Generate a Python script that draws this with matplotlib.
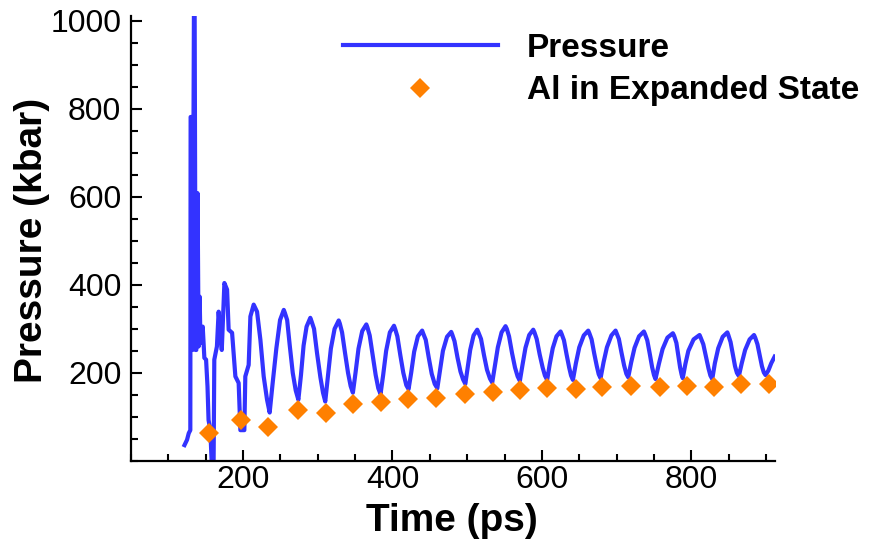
import numpy as np
import matplotlib
matplotlib.use("Agg")
import matplotlib.pyplot as plt
from matplotlib.ticker import MultipleLocator

plt.rcParams['font.family'] = ['Liberation Sans', 'DejaVu Sans']

# --- Data ---
# Pressure trace (time in ps, pressure in kbar)
time_ps = [
    121.6, 125, 127.3, 129.4, 129.8, 131.7, 132.5, 134.2, 135.2, 136.5,
    137.4, 139.1, 140.5, 141.9, 143, 146, 148.2, 150.5, 152.4, 153.8,
    156.2, 158.4, 160.5, 161.5, 165, 167.3, 169.5, 171.5, 175, 178.6,
    180.7, 185.3, 189.7, 194.1, 196.4, 201.7, 203, 207.5, 209.8, 214.2,
    218.7, 223.2, 227.6, 232.1, 235.6,
    239.5, 244.5, 249.5, 254.5, 256, 259, 262.5, 266.5, 270.5, 274,
    277.5, 281, 285, 290, 291.5, 295, 299, 303.5, 307, 310,
    313.5, 317.5, 322.5, 328, 329.5, 332.5, 336.5, 340.5, 344, 347,
    350.5, 354.5, 359.5, 365, 366.5, 369.5, 373.5, 377.5, 381, 384,
    387.5, 391.5, 396.5, 402, 403.5, 406.5, 410.5, 414.5, 418.5, 421.5,
    425, 429, 434, 439.7, 441, 444.5, 448.5, 452.5, 456.5, 460,
    463.5, 467.5, 473, 478.6, 480, 483, 487, 491, 494.5, 497.5,
    500.5, 504, 508.5, 513.4, 515, 518.5, 522.5, 526.5, 530.5, 533.5,
    537, 541, 546, 551.3, 553, 556, 560, 564, 567.5, 570.5,
    574, 578, 583, 588.4, 590, 593, 597, 601, 604, 607,
    610.5, 614.5, 619.5, 625, 626.5, 629.5, 633, 636.5, 639, 641.5,
    645.5, 650, 656, 662, 663.5, 666.5, 670, 673.5, 676, 678.5,
    682.5, 687, 693, 698.6, 700, 703, 706.5, 710, 713, 715.5,
    719.5, 724, 730, 736.5, 738, 741, 744.5, 747.5, 750, 752,
    756.5, 761.5, 768, 775.3, 777, 780, 782.5, 785, 787, 788.5,
    792, 796, 803, 811, 812.5, 816, 819.5, 823, 825.5, 828,
    831.5, 836, 842, 848.2, 849.5, 852.5, 855.5, 858.5, 861, 863.6,
    867.5, 872, 878, 883.9, 885.5, 888.5, 891.5, 894.5, 897, 899.3,
    903, 907, 911.5,
]
pressure_kbar = [
    36, 48, 63, 70, 781, 781, 252, 1010, 1010, 252,
    252, 608, 260, 373, 268, 305, 234, 230, 169, 93,
    70, -20, -20, 230, 260, 339, 291, 252, 404, 389,
    298, 291, 192, 177, 70, 70, 192, 218, 328, 355,
    339, 275, 192, 139, 110,
    175, 255, 320, 343, 336, 320, 262, 200, 160, 139,
    195, 262, 305, 325, 318, 300, 245, 190, 155, 135,
    190, 255, 300, 319, 312, 292, 245, 200, 170, 155,
    200, 255, 295, 310, 303, 285, 240, 195, 165, 152,
    195, 250, 292, 307, 300, 283, 240, 200, 172, 163,
    200, 248, 283, 296, 290, 275, 235, 198, 175, 165,
    205, 250, 282, 293, 287, 272, 235, 203, 185, 175,
    210, 252, 285, 298, 292, 277, 240, 207, 187, 178,
    215, 258, 292, 306, 300, 283, 245, 212, 192, 182,
    218, 257, 286, 298, 292, 277, 242, 212, 194, 184,
    220, 256, 283, 294, 288, 274, 242, 212, 194, 184,
    222, 258, 285, 296, 290, 276, 244, 215, 197, 188,
    224, 258, 285, 296, 290, 277, 246, 217, 198, 190,
    224, 257, 283, 294, 288, 274, 242, 213, 195, 186,
    220, 254, 280, 290, 284, 268, 240, 212, 196, 188,
    220, 250, 276, 286, 280, 265, 238, 210, 194, 186,
    222, 256, 282, 292, 286, 270, 242, 215, 200, 193,
    222, 252, 276, 286, 280, 265, 240, 215, 201, 195,
    205, 222, 237,
]

# Al in expanded state markers
expanded_time = [153.9, 197.3, 233.9, 273.7, 311.2, 347.3, 384.8, 421.4, 458.9,
                 496.4, 533.9, 570.7, 607.1, 645, 680.8, 718.7, 757.9, 793.6,
                 830.2, 866, 903.9]
expanded_pressure = [64, 92, 77, 116, 108, 130, 133, 140, 144, 152, 157, 161,
                     165, 163, 169, 171, 167, 171, 167, 175, 174]

# --- Figure ---
fig = plt.figure(figsize=(8.71, 5.48), dpi=100)
ax = fig.add_axes([0.1504, 0.1588, 0.7394, 0.8126])

ax.plot(time_ps, pressure_kbar, color='#3333FF', linewidth=3,
        solid_joinstyle='round', label='Pressure', zorder=2)
ax.plot(expanded_time, expanded_pressure, linestyle='none', marker='D',
        markersize=10.5, color='#FF8000', markeredgewidth=0,
        label='Al in Expanded State', zorder=3)

ax.set_xlim(50, 912)
ax.set_ylim(0, 1011)
ax.set_xticks([200, 400, 600, 800])
ax.set_yticks([200, 400, 600, 800, 1000])
ax.xaxis.set_minor_locator(MultipleLocator(50))
ax.yaxis.set_minor_locator(MultipleLocator(50))

for s in ['top', 'right']:
    ax.spines[s].set_visible(False)
for s in ['left', 'bottom']:
    ax.spines[s].set_linewidth(1.6)

ax.tick_params(which='both', direction='in', width=1.5, labelsize=23)
ax.tick_params(which='major', length=8)
ax.tick_params(which='minor', length=5)
ax.tick_params(axis='y', which='major', pad=7)
ax.tick_params(axis='x', which='major', pad=3)

fig.text(32 / 871, 1 - 240 / 548, 'Pressure (kbar)', rotation=90,
         ha='center', va='center', fontsize=28, fontweight='bold')
fig.text(452 / 871, 1 - 521 / 548, 'Time (ps)', ha='center', va='center',
         fontsize=28, fontweight='bold')

ax.legend(loc='upper left', bbox_to_anchor=(326 / 871, 1 - 16 / 548),
          bbox_transform=fig.transFigure, frameon=False, borderpad=0,
          handlelength=4.65, handletextpad=0.87, labelspacing=0.35,
          prop={'size': 24, 'weight': 'bold'})

fig.savefig('out.png', dpi=100)
